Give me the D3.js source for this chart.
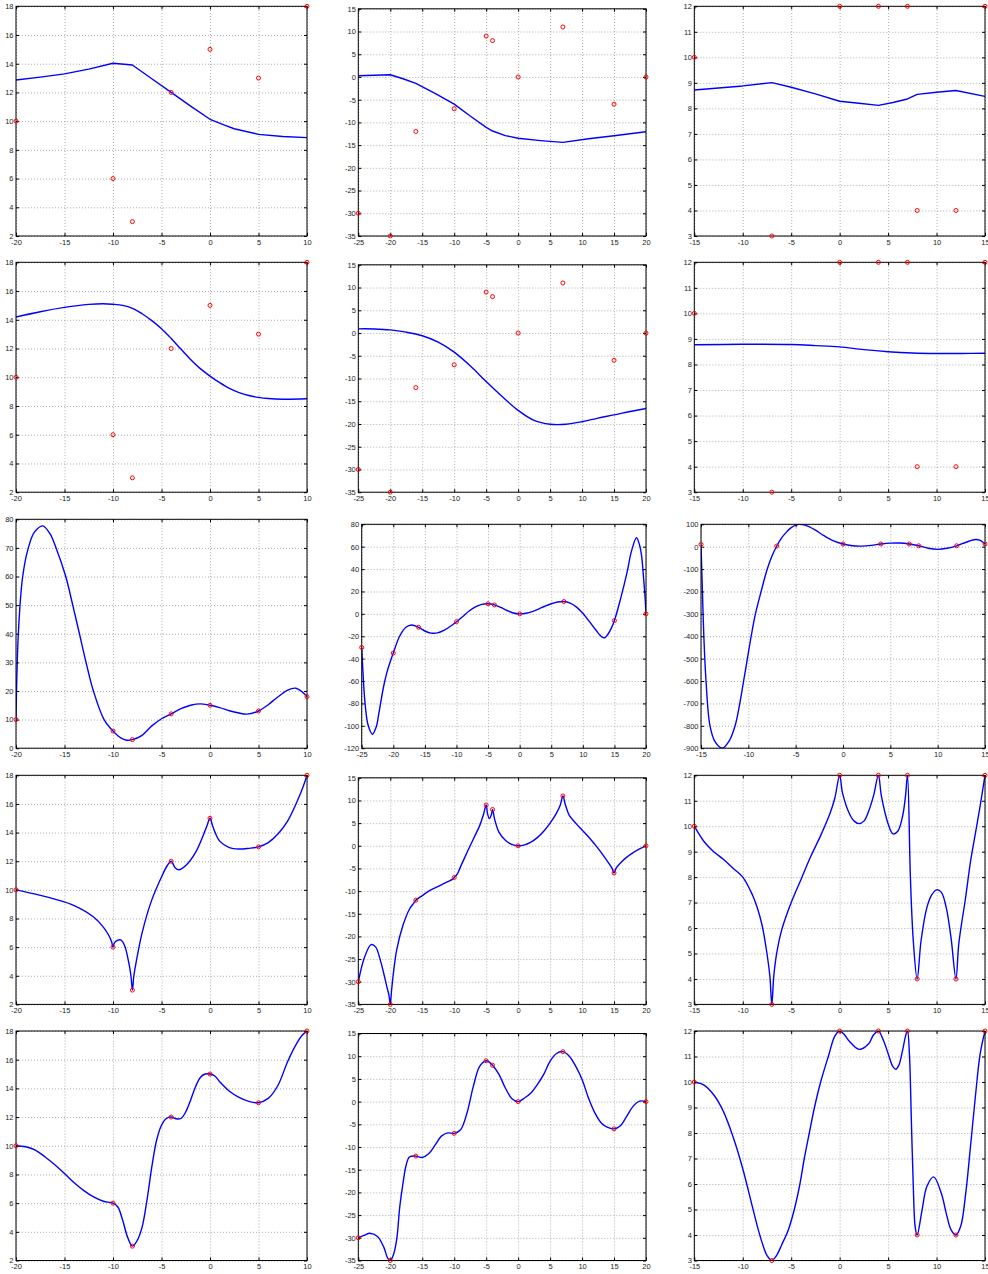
<!DOCTYPE html>
<html>
<head>
<meta charset="utf-8">
<script src="https://cdn.jsdelivr.net/npm/d3@7"></script>
<style>
  body { margin: 0; background: #fff; }
  .tick text { font-family: "Liberation Sans", Arial, sans-serif; font-size: 7.5px; fill: #222; }
</style>
</head>
<body>
<div id="chart"></div>
<script>
// Sample points, one set per column
const ax = [-20, -10, -8, -4, 0, 5, 10]
const ay = [10, 6, 3, 12, 15, 13, 18]
const bx = [-25, -20, -16, -10, -5, -4, 0, 7, 15, 20]
const by = [-30, -35, -12, -7, 9, 8, 0, 11, -6, 0]
const cx = [-15, -7, 0, 4, 7, 8, 12, 15]
const cy = [10, 3, 12, 12, 12, 4, 4, 12]

// Axis ticks
const xTicksA = [-20, -15, -10, -5, 0, 5, 10]
const xTicksB = [-25, -20, -15, -10, -5, 0, 5, 10, 15, 20]
const xTicksC = [-15, -10, -5, 0, 5, 10, 15]
const yTicksA = [2, 4, 6, 8, 10, 12, 14, 16, 18]
const yTicksB = [-35, -30, -25, -20, -15, -10, -5, 0, 5, 10, 15]
const yTicksC = [3, 4, 5, 6, 7, 8, 9, 10, 11, 12]
const yTicksA3 = [0, 10, 20, 30, 40, 50, 60, 70, 80]
const yTicksB3 = [-120, -100, -80, -60, -40, -20, 0, 20, 40, 60, 80]
const yTicksC3 = [-900, -800, -700, -600, -500, -400, -300, -200, -100, 0, 100]

// Curves, [x, y]
const r1a = [[-20,12.87],[-17.5,13.07],[-15,13.29],[-12.5,13.62],[-10,14.03],[-8,13.91],[-6,12.95],[-4,12.0],[-2,11.05],[0,10.13],[1.5,9.72],[2.5,9.47],[5,9.08],[7.5,8.93],[10,8.85]]
const r1b = [[-25,0.26],[-20,0.48],[-18,-0.4],[-16,-1.42],[-13,-3.6],[-10,-5.97],[-7.5,-8.6],[-5,-11.1],[-4,-11.9],[-2,-12.9],[0,-13.5],[3.5,-14.0],[7,-14.4],[11,-13.6],[15,-12.93],[20,-12.05]]
const r1c = [[-15,8.72],[-10,8.88],[-7,9.01],[-5,8.83],[-2.5,8.57],[0,8.28],[2,8.2],[4,8.12],[5.5,8.23],[7,8.37],[8,8.55],[10,8.63],[12,8.70],[15,8.47]]

const r2a = [[-20,14.19],[-17.5,14.56],[-15,14.86],[-12.5,15.07],[-11,15.12],[-10,15.08],[-9,15.0],[-8,14.8],[-7,14.42],[-6,13.94],[-5,13.38],[-4,12.7],[-3,11.96],[-2,11.24],[-1,10.6],[0,10.08],[1,9.62],[2,9.22],[3,8.93],[4,8.73],[5,8.6],[6,8.52],[7.5,8.47],[10,8.5]]
const r2b = [[-25,0.92],[-22.5,0.9],[-20,0.7],[-17.5,0.19],[-15,-0.6],[-12.5,-2.0],[-10,-4.2],[-7.5,-7.2],[-5,-10.66],[-2.5,-13.96],[0,-17.0],[2.5,-19.2],[5,-20.05],[7.5,-20.05],[10,-19.5],[12.5,-18.7],[15,-18.0],[17.5,-17.26],[20,-16.6]]
const r2c = [[-15,8.77],[-10,8.79],[-5,8.78],[-2.5,8.74],[0,8.69],[2.5,8.58],[5,8.5],[7.5,8.45],[10,8.43],[12.5,8.43],[15,8.44]]

const r3a = [[-20,10],[-19.76,40],[-19.31,60],[-18.73,70],[-18.1,75.5],[-17.25,77.7],[-16.5,75],[-15.87,70],[-14.87,60],[-14.15,50],[-13.46,40],[-12.78,30],[-12.02,20],[-10.92,10],[-10,6],[-9.2,3.6],[-8.6,2.8],[-8,3],[-7,4.5],[-6,7.8],[-5,10.3],[-4,12],[-3,13.8],[-2,15],[-1,15.5],[0,15],[1,14.2],[2,13.1],[3,12.3],[3.8,11.9],[5,13],[6,15.2],[6.55,16.7],[7.5,19.2],[8,20.3],[8.8,21],[9.5,19.7],[10,18]]
const r3b = [[-25,-30],[-24.8,-52],[-24.5,-78],[-24,-99],[-23.3,-107.5],[-22.7,-101],[-22.2,-86],[-21.5,-64],[-21,-52],[-20.5,-43],[-20,-35],[-19,-20],[-18,-12],[-17.1,-10],[-16,-12],[-15,-15.3],[-14,-17.2],[-13,-17],[-12,-14.8],[-11,-11.3],[-10,-7],[-9,-2.3],[-8,2.5],[-7,6.2],[-6,8.5],[-5,9],[-4,8],[-3,5.7],[-2,3],[-1,0.8],[0,0],[1,0.5],[2,2],[3,4.3],[4,6.8],[5,9],[6,10.6],[7,11],[8,9.5],[9,6],[10,0.5],[11,-6.5],[12,-14],[13,-20.5],[13.5,-21.3],[14,-18],[14.5,-13],[15,-6],[16,14],[17,37],[17.7,56],[18.5,68],[19,61],[19.3,52],[19.6,33],[19.85,15],[20,0]]
const r3c = [[-15,10],[-14.85,-200],[-14.7,-400],[-14.47,-600],[-14.05,-800],[-13.5,-872],[-12.75,-900],[-12,-866],[-11.4,-800],[-10.9,-700],[-10.5,-600],[-10.1,-500],[-9.7,-400],[-9.25,-300],[-8.65,-200],[-8.0,-100],[-7.5,-42],[-7,3],[-6.5,38],[-6,64],[-5.5,84],[-5,96],[-4.6,100],[-4,96],[-3,76],[-2,49],[-1,26],[0,12],[1,4],[2,2.5],[3,6],[4,12],[5,16],[6,16.5],[7,12],[8,4],[9,-7],[10,-12],[11,-7],[12,4],[13,20],[14,32],[14.5,28],[15,12]]

const r4a = [[-20,10],[-18,9.7],[-16,9.35],[-14,8.9],[-12,8.1],[-11,7.4],[-10.5,6.9],[-10.15,6.4],[-10,6],[-9.85,6.3],[-9.6,6.45],[-9.2,6.5],[-8.8,6.1],[-8.4,5],[-8.15,4],[-8,3],[-7.85,4],[-7.6,5],[-7,7],[-6,9.3],[-5,10.9],[-4.4,11.7],[-4,12],[-3.6,11.55],[-3.2,11.4],[-2.5,11.7],[-1.5,12.6],[-0.7,13.8],[-0.3,14.5],[0,15],[0.3,14.4],[1,13.4],[2,12.95],[3,12.85],[4,12.9],[5,13],[6,13.3],[7,13.9],[8,14.8],[9,16.2],[9.6,17.2],[10,18]]
const r4b = [[-25,-30],[-24,-24.5],[-23,-21.8],[-22.3,-22.3],[-21.5,-25.5],[-21,-28.3],[-20.5,-31.3],[-20.2,-33],[-20,-35],[-19.8,-32],[-19.5,-28],[-19,-23],[-18,-17.5],[-17,-14],[-16.3,-12.6],[-16,-12],[-15,-11],[-14,-10],[-13,-9.3],[-12,-8.6],[-11,-7.9],[-10.3,-7.4],[-10,-7],[-9.5,-6.2],[-9,-4.6],[-8,-1.5],[-7,1.5],[-6,4.5],[-5.4,7],[-5,9],[-4.8,7.2],[-4.5,6],[-4.2,6.8],[-4,8],[-3.7,6],[-3,3],[-2,1.2],[-1,0.3],[0,0],[1,0.2],[2,0.8],[3,1.8],[4,3.2],[5,5],[6,7.2],[6.6,9],[7,11],[7.4,9],[8,6.7],[9,5],[10,3.5],[11,2],[12,0.3],[13,-1.5],[14,-3.5],[14.7,-5],[15,-6],[15.3,-5],[16,-3.8],[17,-2.5],[18,-1.5],[19,-0.7],[20,0]]
const r4c = [[-15,10],[-14,9.4],[-13,9.0],[-12,8.7],[-11,8.35],[-10,8.0],[-9,7.3],[-8.5,6.8],[-8,6.1],[-7.5,5],[-7.2,4.1],[-7,3],[-6.8,4.1],[-6.5,5],[-6,5.9],[-5,7],[-4,7.9],[-3,8.8],[-2,9.6],[-1,10.5],[-0.5,11.1],[0,12],[0.3,11.3],[1,10.5],[1.5,10.2],[2,10.1],[2.5,10.2],[3,10.6],[3.5,11.2],[4,12],[4.3,11.2],[5,10.1],[5.5,9.7],[6,9.8],[6.5,10.4],[6.8,11.2],[7,12],[7.3,8],[7.6,5.5],[8,4],[8.4,5.5],[9,6.8],[9.5,7.3],[10,7.5],[10.5,7.4],[11,6.8],[11.5,5.6],[12,4],[12.3,5.4],[13,7.2],[13.5,8.6],[14,9.7],[14.5,10.8],[15,12]]

const r5a = [[-20,10],[-19,9.93],[-18,9.7],[-17,9.22],[-16,8.68],[-15,8.06],[-14,7.42],[-13,6.87],[-12,6.43],[-11,6.13],[-10,6],[-9.5,5.73],[-9,4.8],[-8.5,3.63],[-8,3],[-7.5,3.4],[-7,4.33],[-6.5,6.2],[-6,8.52],[-5.5,10.4],[-5,11.43],[-4.5,11.9],[-4,12],[-3.5,11.88],[-3,11.9],[-2.5,12.36],[-2,13.18],[-1.5,14.1],[-1,14.76],[-0.5,15.0],[0,15],[0.5,14.86],[1,14.46],[2,13.8],[3,13.37],[4,13.09],[5,13],[6,13.3],[7,14.2],[8,15.86],[9,17.2],[9.5,17.7],[10,18]]
const r5b = [[-25,-30],[-24,-29.4],[-23.2,-29],[-22,-29.7],[-21,-32.1],[-20.4,-34.5],[-20,-35],[-19.5,-33.7],[-19,-30.4],[-18.5,-23],[-18,-17.9],[-17.5,-13.9],[-17,-12.2],[-16,-12],[-15,-12.3],[-14,-11.5],[-13,-9.6],[-12,-7.6],[-11,-6.9],[-10,-7],[-9,-6.2],[-8,-2.5],[-7,3.4],[-6,7.8],[-5,9],[-4.5,8.7],[-4,8],[-3,6.0],[-2,3.0],[-1,0.7],[0,0],[1,0.8],[2,1.9],[3,3.75],[4,6.0],[5,8.9],[6,10.6],[7,11],[8,10],[9,7.8],[10,4.85],[11,0.8],[12,-2.5],[13,-4.7],[14,-5.7],[15,-6],[16,-5.3],[17,-3.2],[18,-1.0],[19,0.1],[20,0]]
const r5c = [[-15,10],[-14,9.88],[-13,9.5],[-12,8.85],[-11,7.85],[-10,6.6],[-9,5.1],[-8.5,4.35],[-8,3.7],[-7.5,3.2],[-7,3],[-6.5,3.2],[-6,3.6],[-5.3,4.2],[-4.68,5],[-4.1,6],[-3.65,7],[-3.13,8],[-2.6,9],[-1.96,10],[-1.17,11],[-0.5,11.8],[0,12],[0.5,11.85],[1,11.6],[2,11.28],[3,11.5],[3.5,11.85],[4,12],[4.5,11.65],[5,11.12],[5.5,10.6],[5.8,10.5],[6.1,10.65],[6.5,11.25],[6.8,11.8],[7,12],[7.2,11.1],[7.4,8.5],[7.6,5.9],[7.8,4.3],[8,4],[8.5,4.97],[9,5.9],[9.7,6.28],[10.5,5.63],[11,4.85],[11.5,4.2],[12,4],[12.5,4.35],[13,5.6],[13.5,7.46],[14,9.4],[14.5,11.1],[15,12]]

const curves = [
    [r1a, r1b, r1c],
    [r2a, r2b, r2c],
    [r3a, r3b, r3c],
    [r4a, r4b, r4c],
    [r5a, r5b, r5c]
]

// Per-column settings
const columns = [
    { px: ax, py: ay, xd: [-20, 10], yd: [2, 18], xt: xTicksA, yt: yTicksA, yd3: [0, 80], yt3: yTicksA3 },
    { px: bx, py: by, xd: [-25, 20], yd: [-35, 15], xt: xTicksB, yt: yTicksB, yd3: [-120, 80], yt3: yTicksB3 },
    { px: cx, py: cy, xd: [-15, 15], yd: [3, 12], xt: xTicksC, yt: yTicksC, yd3: [-900, 100], yt3: yTicksC3 }
]

// Box of each subplot in page pixels
const colLeft = [16, 358.3, 694.3]
const colRight = [307, 646, 985]
const rowTop = [6.3, 262.3, 519.3, 775.3, 1031]
const rowBottom = [236, 492.2, 748.2, 1004.4, 1260.5]

function box(r, c) {
    let l = colLeft[c], t = rowTop[r]
    if (c === 1) t += 2.5
    if (r === 2 && c > 0) { t = rowTop[r] + 5; l = c === 1 ? 361.7 : 701 }
    return { l: l, r: colRight[c], t: t, b: rowBottom[r] }
}

const svg = d3.select('#chart')
    .append('svg')
    .attr('width', 988)
    .attr('height', 1274)

const fmt = d => String(d)

curves.forEach((rowCurves, r) => {
    rowCurves.forEach((data, c) => {
        const col = columns[c]
        const bb = box(r, c)
        const yd = r === 2 ? col.yd3 : col.yd
        const yt = r === 2 ? col.yt3 : col.yt

        const x = d3.scaleLinear().domain(col.xd).range([bb.l, bb.r])
        const y = d3.scaleLinear().domain(yd).range([bb.b, bb.t])
        const w = bb.r - bb.l, h = bb.b - bb.t

        const g = svg.append('g')

        // dotted grid
        g.append('g')
            .attr('transform', `translate(0,${bb.b})`)
            .call(d3.axisBottom(x).tickValues(col.xt).tickSize(-h).tickFormat(''))
            .call(s => s.select('.domain').remove())
            .selectAll('line').attr('stroke', '#999').attr('stroke-width', 0.8).attr('stroke-dasharray', '1,2')
        g.append('g')
            .attr('transform', `translate(${bb.l},0)`)
            .call(d3.axisLeft(y).tickValues(yt).tickSize(-w).tickFormat(''))
            .call(s => s.select('.domain').remove())
            .selectAll('line').attr('stroke', '#999').attr('stroke-width', 0.8).attr('stroke-dasharray', '1,2')

        // curve
        const clipId = `clip-${r}-${c}`
        g.append('clipPath').attr('id', clipId)
            .append('rect').attr('x', bb.l).attr('y', bb.t).attr('width', w).attr('height', h)

        const line = d3.line()
            .x(d => x(d[0]))
            .y(d => y(d[1]))
            .curve(r === 0 ? d3.curveLinear : d3.curveCatmullRom.alpha(0.5))

        g.append('path')
            .datum(data)
            .attr('clip-path', `url(#${clipId})`)
            .attr('fill', 'none')
            .attr('stroke', '#0000ff')
            .attr('stroke-width', 1.4)
            .attr('stroke-linejoin', 'round')
            .attr('d', line)

        // axes with inward ticks
        g.append('g')
            .attr('transform', `translate(0,${bb.b})`)
            .call(d3.axisBottom(x).tickValues(col.xt).tickSize(-3).tickPadding(3.5).tickFormat(fmt))
        g.append('g')
            .attr('transform', `translate(0,${bb.t})`)
            .call(d3.axisTop(x).tickValues(col.xt).tickSize(-3).tickFormat(''))
        g.append('g')
            .attr('transform', `translate(${bb.l},0)`)
            .call(d3.axisLeft(y).tickValues(yt).tickSize(-3).tickPadding(2.5).tickFormat(fmt))
        g.append('g')
            .attr('transform', `translate(${bb.r},0)`)
            .call(d3.axisRight(y).tickValues(yt).tickSize(-3).tickFormat(''))
        g.selectAll('.domain').remove()
        g.selectAll('.tick line').filter(function () { return !this.getAttribute('stroke-dasharray') })
            .attr('stroke', '#000')

        g.append('rect')
            .attr('x', bb.l).attr('y', bb.t).attr('width', w).attr('height', h)
            .attr('fill', 'none').attr('stroke', '#000').attr('stroke-width', 1)

        // sample points
        g.selectAll('circle')
            .data(col.px.map((v, i) => [v, col.py[i]]))
            .join('circle')
            .attr('cx', d => x(d[0]))
            .attr('cy', d => y(d[1]))
            .attr('r', 2)
            .attr('fill', 'none')
            .attr('stroke', '#ff0000')
            .attr('stroke-width', 1)
    })
})
</script>
</body>
</html>
